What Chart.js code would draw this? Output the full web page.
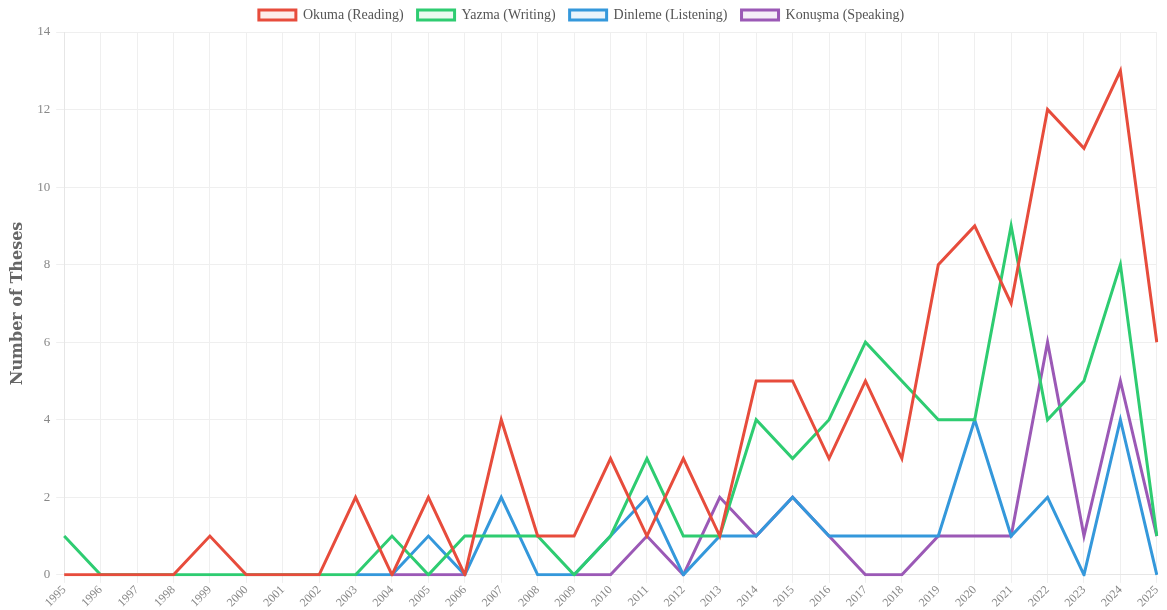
<!DOCTYPE html>
<html>
<head>
<meta charset="utf-8">
<script src="https://cdn.jsdelivr.net/npm/chart.js@4"></script>
<style>
    html, body { margin: 0; padding: 0; background: #fff; }
    #wrap { width: 1167px; height: 610px; }
</style>
</head>
<body>
<div id="wrap"><canvas id="thesisChart"></canvas></div>
<script>
// Years on the x axis
const years = ['1995', '1996', '1997', '1998', '1999', '2000', '2001', '2002', '2003', '2004',
    '2005', '2006', '2007', '2008', '2009', '2010', '2011', '2012', '2013', '2014',
    '2015', '2016', '2017', '2018', '2019', '2020', '2021', '2022', '2023', '2024', '2025'];

// Theses per skill
const reading = [0, 0, 0, 0, 1, 0, 0, 0, 2, 0, 2, 0, 4, 1, 1, 3, 1, 3, 1, 5, 5, 3, 5, 3, 8, 9, 7, 12, 11, 13, 6];
const writing = [1, 0, 0, 0, 0, 0, 0, 0, 0, 1, 0, 1, 1, 1, 0, 1, 3, 1, 1, 4, 3, 4, 6, 5, 4, 4, 9, 4, 5, 8, 1];
const listening = [null, null, null, null, null, null, null, null, 0, 0, 1, 0, 2, 0, 0, 1, 2, 0, 1, 1, 2, 1, 1, 1, 1, 4, 1, 2, 0, 4, 0];
const speaking = [null, null, null, null, null, null, null, null, null, 0, 0, 0, null, null, 0, 0, 1, 0, 2, 1, 2, 1, 0, 0, 1, 1, 1, 6, 1, 5, 1];

const seriesNames = ['Okuma (Reading)', 'Yazma (Writing)', 'Dinleme (Listening)', 'Konuşma (Speaking)'];
const seriesColors = ['#e74c3c', '#2ecc71', '#3498db', '#9b59b6'];
const seriesFills = ['rgba(231, 76, 60, 0.1)', 'rgba(46, 204, 113, 0.1)', 'rgba(52, 152, 219, 0.1)', 'rgba(155, 89, 182, 0.1)'];

const seriesData = [reading, writing, listening, speaking];

const ctx = document.getElementById('thesisChart');
new Chart(ctx, {
    type: 'line',
    data: {
        labels: years,
        datasets: seriesData.map((d, i) => ({
            label: seriesNames[i],
            data: d,
            borderColor: seriesColors[i],
            backgroundColor: seriesFills[i],
            borderWidth: 3,
            pointRadius: 0,
            pointHoverRadius: 4,
            tension: 0,
            fill: false
        }))
    },
    options: {
        responsive: true,
        maintainAspectRatio: false,
        animation: false,
        layout: { padding: { left: 4, right: 8, top: -6, bottom: 0 } },
        plugins: {
            legend: {
                position: 'top',
                labels: {
                    boxWidth: 37,
                    boxHeight: 10,
                    padding: 14,
                    color: '#555',
                    font: { family: 'Liberation Serif', size: 14 }
                }
            },
            tooltip: { enabled: true }
        },
        scales: {
            x: {
                grid: { color: '#efefef' },
                border: { color: '#e6e6e6' },
                ticks: {
                    color: '#888',
                    padding: 0,
                    maxRotation: 45,
                    minRotation: 45,
                    autoSkip: false,
                    font: { family: 'Liberation Serif', size: 12 }
                }
            },
            y: {
                beginAtZero: true,
                max: 14,
                grid: { color: '#efefef' },
                border: { color: '#e6e6e6' },
                ticks: {
                    stepSize: 2,
                    color: '#888',
                    padding: 6,
                    font: { family: 'Liberation Serif', size: 13 }
                },
                title: {
                    display: true,
                    text: 'Number of Theses',
                    color: '#666',
                    font: { family: 'DejaVu Serif', size: 16, weight: 'bold' }
                }
            }
        }
    }
});
</script>
</body>
</html>
